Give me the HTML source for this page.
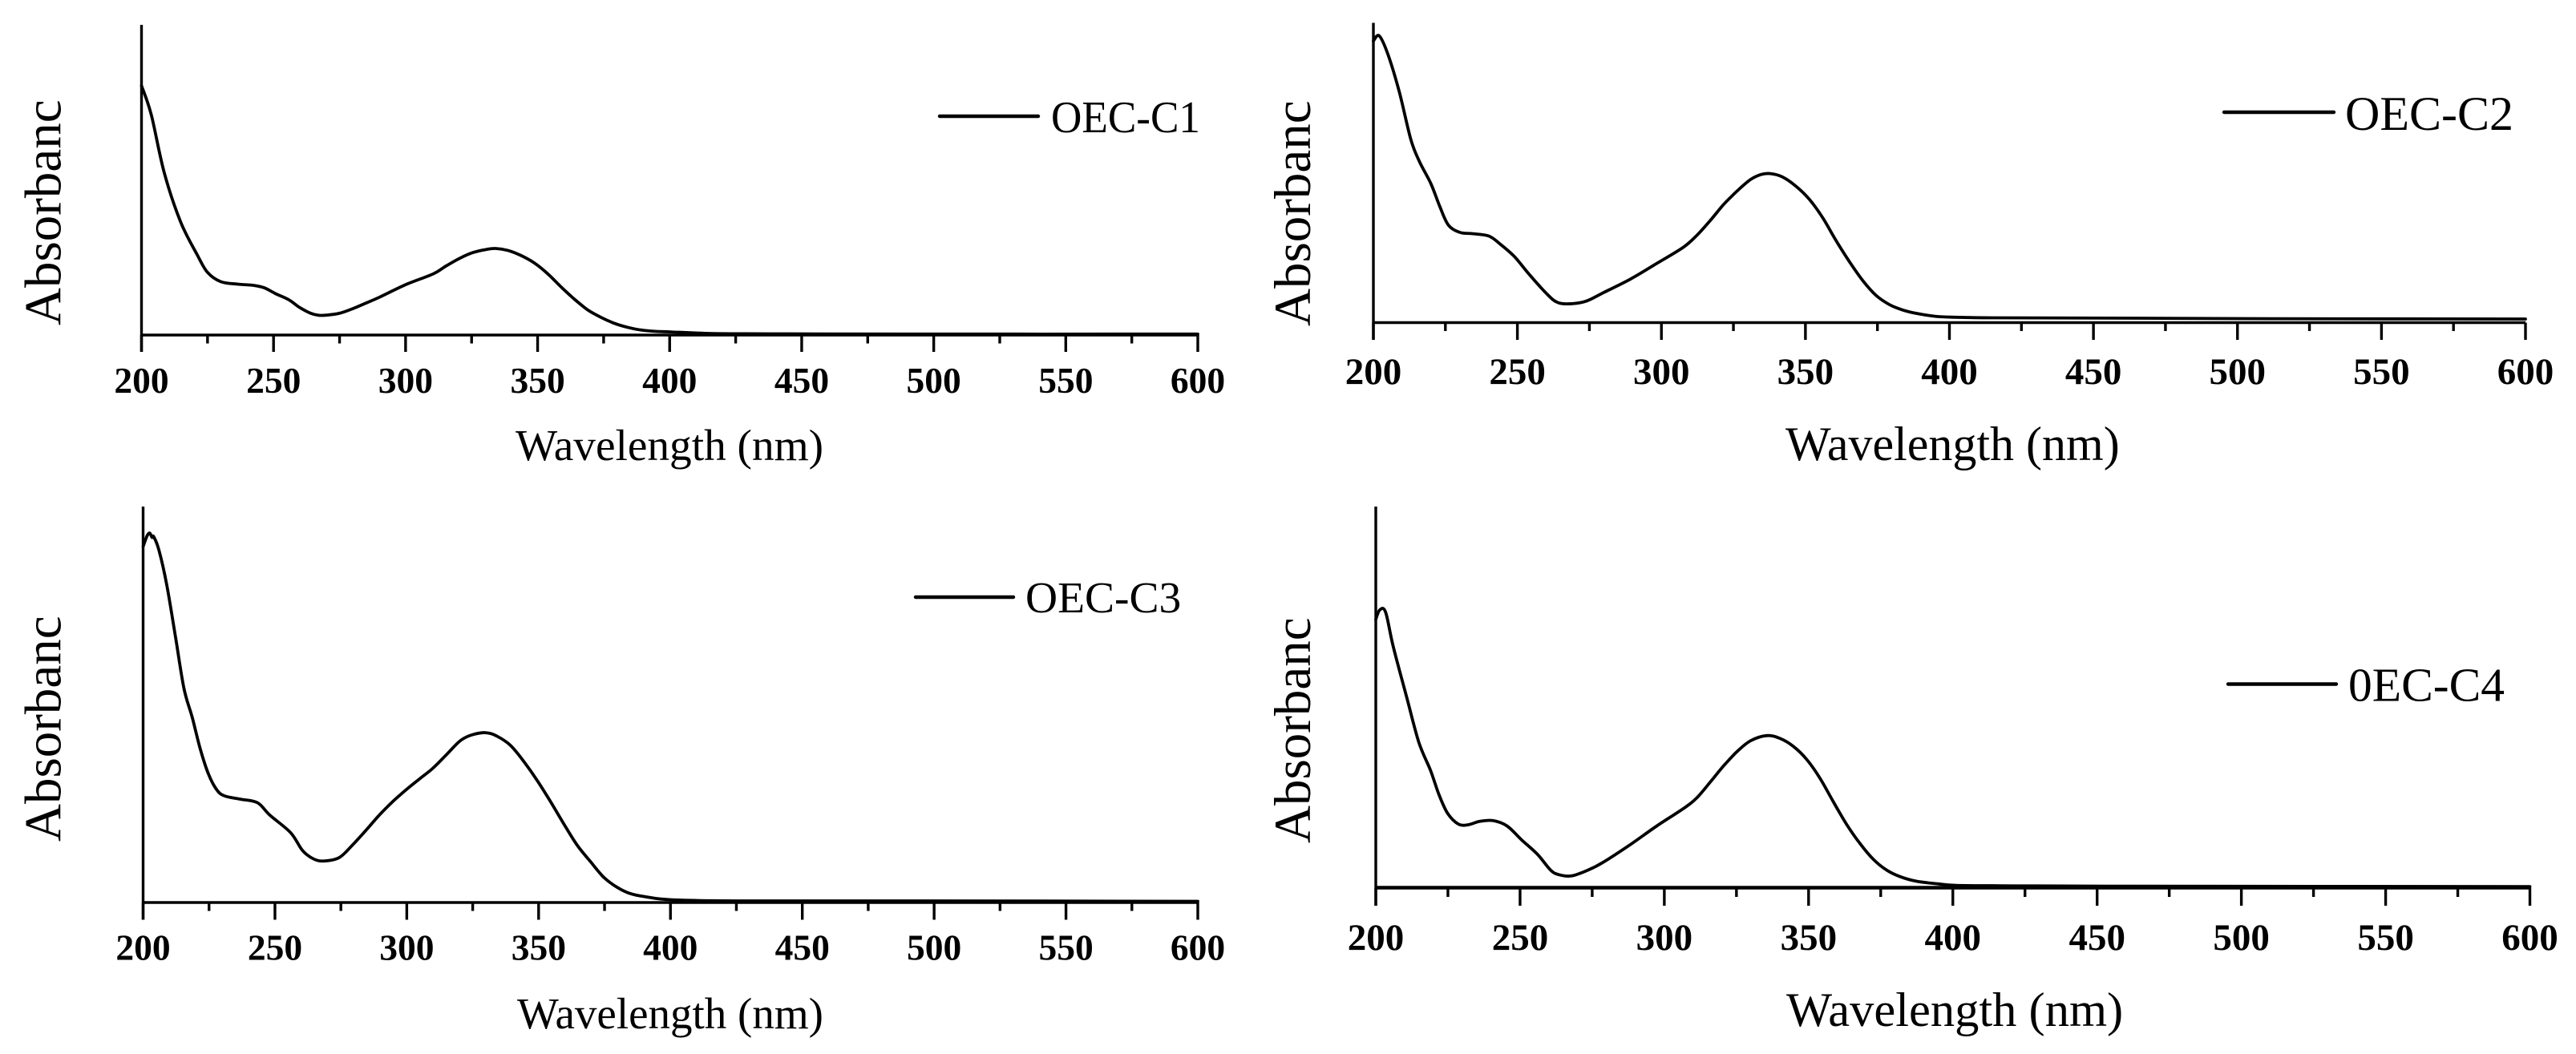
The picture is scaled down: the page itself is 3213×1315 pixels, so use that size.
<!DOCTYPE html>
<html lang="en">
<head>
<meta charset="utf-8">
<title>UV-Vis absorbance spectra of OEC-C1 to OEC-C4</title>
<style>
  html, body { margin: 0; padding: 0; background: #fff; }
  svg { display: block; }
  text { font-family: "Liberation Serif", "DejaVu Serif", serif; fill: #000; }
  .tick-label { font-weight: bold; text-anchor: middle; }
  .axis-line { stroke: #000; stroke-width: 3.4; fill: none; }
  .curve { stroke: #000; stroke-width: 3.8; fill: none; stroke-linejoin: round; stroke-linecap: round; }
  .legend-line { stroke: #000; stroke-width: 4.4; stroke-linecap: round; }
</style>
</head>
<body>
<svg id="figure" xmlns="http://www.w3.org/2000/svg" width="3213" height="1315" viewBox="0 0 3213 1315">
  <rect x="0" y="0" width="3213" height="1315" fill="#fff"/>

  <g id="panel-1">
    <text transform="translate(75.5,406) rotate(-90)" font-size="65">Absorbanc</text>
    <text x="643" y="574" font-size="55.3">Wavelength (nm)</text>
    <line class="legend-line" x1="1172" y1="145" x2="1295" y2="145"/>
    <text x="1311" y="165" font-size="56" textLength="186" lengthAdjust="spacingAndGlyphs">OEC-C1</text>
  </g>

  <g id="panel-2">
    <text transform="translate(1634,407) rotate(-90)" font-size="65">Absorbanc</text>
    <text x="2227" y="574" font-size="60">Wavelength (nm)</text>
    <line class="legend-line" x1="2774" y1="140" x2="2911" y2="140"/>
    <text x="2925" y="162" font-size="60">OEC-C2</text>
  </g>

  <g id="panel-3">
    <text transform="translate(75.5,1050) rotate(-90)" font-size="65">Absorbanc</text>
    <text x="645" y="1283" font-size="55">Wavelength (nm)</text>
    <line class="legend-line" x1="1142" y1="745" x2="1264" y2="745"/>
    <text x="1279" y="764" font-size="55.5">OEC-C3</text>
  </g>

  <g id="panel-4">
    <text transform="translate(1634,1052) rotate(-90)" font-size="65">Absorbanc</text>
    <text x="2228" y="1280" font-size="60.5">Wavelength (nm)</text>
    <line class="legend-line" x1="2779" y1="853.5" x2="2914" y2="853.5"/>
    <text x="2929" y="874.5" font-size="59.5">0EC-C4</text>
  </g>
</svg>

<script>
// Chart data: wavelength (nm) and relative absorbance
const majorTicks = [200, 250, 300, 350, 400, 450, 500, 550, 600];
const minorTicks = [225, 275, 325, 375, 425, 475, 525, 575];

const wavelengthC1 = [200,203.7,208.6,214.8,221,225,230,236.5,242.6,246.6,250.6,255.7,259.7,263.8,266.9,269.9,274.9,280,285,290.1,300.2,310.4,315.4,320.4,325.5,330.6,334,338.6,343.8,348.8,353.9,359,364,369,374,379,384,389.3,394.4,400.4,416,440,487,600];
const absorbanceC1 = [.804,.71,.524,.365,.26,.202,.172,.164,.160,.152,.134,.114,.09,.071,.064,.064,.070,.085,.103,.122,.163,.197,.223,.247,.266,.276,.279,.273,.256,.232,.197,.154,.115,.081,.057,.038,.025,.016,.012,.010,.005,.004,.003,.003];

const wavelengthC2 = [200,202,205,209,213,216,220,223,226,230,234,240,244,249,254,260,264,269,274,279.9,289.2,298.5,307.7,312.4,317,321.6,326.3,330.9,334.6,337.9,342,346.7,351.3,356,360.6,365.3,369.9,374.5,379.2,383.8,388.4,395,402.4,415,455,512,600];
const absorbanceC2 = [.939,.957,.896,.770,.611,.537,.463,.389,.326,.301,.297,.289,.262,.220,.162,.098,.067,.063,.072,.100,.145,.198,.252,.292,.341,.394,.439,.477,.494,.497,.486,.455,.412,.350,.274,.203,.140,.091,.060,.042,.031,.021,.018,.016,.015,.013,.012];

const wavelengthC3 = [200,201.5,202.5,203.4,204,206,209,212.4,215.5,218.6,221.7,224.8,228,231,237,243.4,248,256,260.5,265,269,274.5,279.5,284.6,289.6,294.7,299.8,304.8,309.9,315,320,324.1,329.7,334.2,339.3,344.4,349.4,354.5,359.6,364.7,369.7,374.8,379.9,385,391,400,425,487,600];
const absorbanceC3 = [.899,.926,.933,.922,.924,.890,.801,.666,.540,.468,.387,.324,.284,.269,.261,.252,.221,.176,.131,.109,.105,.114,.146,.183,.221,.255,.285,.312,.339,.373,.407,.422,.429,.420,.397,.356,.309,.255,.198,.144,.103,.063,.038,.022,.014,.007,.004,.004,.003];

const wavelengthC4 = [200,201.4,203.4,206,210.6,214.9,219,222,224.9,228.6,232,236,240.6,245.5,250.6,256,260.6,263.5,267.8,273.5,278.9,288.2,297.4,306.7,311.3,316,320.6,325.2,329.8,335.4,340,344.7,349.3,353.9,358.6,363.2,367.8,372.5,377.1,381.7,387.3,394.7,401.2,416,454,600];
const absorbanceC4 = [.704,.729,.723,.634,.503,.382,.307,.242,.195,.167,.165,.174,.176,.162,.125,.088,.046,.034,.031,.046,.067,.113,.162,.208,.236,.278,.320,.357,.385,.399,.392,.371,.337,.288,.225,.166,.116,.074,.046,.029,.017,.010,.006,.005,.004,.003];

const panels = [
  { id: 'panel-1', xs: wavelengthC1, ys: absorbanceC1, left: 176.5, right: 1494, axisY: 418, topY: 31, majorEnd: 439, minorEnd: 428.5, labelY: 490, labelSize: 45.5, axisWidth: 3.4 },
  { id: 'panel-2', xs: wavelengthC2, ys: absorbanceC2, left: 1713, right: 3150, axisY: 402.5, topY: 28.5, majorEnd: 424, minorEnd: 413, labelY: 479, labelSize: 47, axisWidth: 3.4 },
  { id: 'panel-3', xs: wavelengthC3, ys: absorbanceC3, left: 178.5, right: 1494, axisY: 1126, topY: 632, majorEnd: 1147.5, minorEnd: 1136.5, labelY: 1197.5, labelSize: 45.5, axisWidth: 3.4 },
  { id: 'panel-4', xs: wavelengthC4, ys: absorbanceC4, left: 1716, right: 3155.5, axisY: 1107.5, topY: 632, majorEnd: 1130, minorEnd: 1119, labelY: 1185, labelSize: 47, axisWidth: 4.6 }
];

const SVG_NS = 'http://www.w3.org/2000/svg';

function makeLine(group, x1, y1, x2, y2) {
  const el = document.createElementNS(SVG_NS, 'line');
  el.setAttribute('x1', x1);
  el.setAttribute('y1', y1);
  el.setAttribute('x2', x2);
  el.setAttribute('y2', y2);
  el.setAttribute('class', 'axis-line');
  group.appendChild(el);
  return el;
}

function smoothPath(pts) {
  let d = 'M' + pts[0][0].toFixed(1) + ' ' + pts[0][1].toFixed(1);
  for (let i = 0; i < pts.length - 1; i++) {
    const p0 = pts[Math.max(i - 1, 0)];
    const p1 = pts[i];
    const p2 = pts[i + 1];
    const p3 = pts[Math.min(i + 2, pts.length - 1)];
    const c1x = p1[0] + (p2[0] - p0[0]) / 6;
    const c1y = p1[1] + (p2[1] - p0[1]) / 6;
    const c2x = p2[0] - (p3[0] - p1[0]) / 6;
    const c2y = p2[1] - (p3[1] - p1[1]) / 6;
    d += 'C' + c1x.toFixed(1) + ' ' + c1y.toFixed(1) + ' ' + c2x.toFixed(1) + ' ' + c2y.toFixed(1) + ' ' + p2[0].toFixed(1) + ' ' + p2[1].toFixed(1);
  }
  return d;
}

panels.forEach(function (p) {
  const group = document.getElementById(p.id);
  const xScale = function (w) { return p.left + (w - 200) * (p.right - p.left) / 400; };
  const yScale = function (a) { return p.axisY - a * (p.axisY - p.topY); };

  const yAxis = makeLine(group, p.left, p.topY, p.left, p.majorEnd);
  
  

  const xAxis = makeLine(group, p.left, p.axisY, p.right, p.axisY);
  xAxis.style.strokeWidth = p.axisWidth;
  
  

  majorTicks.forEach(function (t) {
    const tick = makeLine(group, xScale(t), p.axisY, xScale(t), p.majorEnd);
    
    

    const label = document.createElementNS(SVG_NS, 'text');
    label.setAttribute('x', xScale(t));
    label.setAttribute('y', p.labelY);
    label.setAttribute('font-size', p.labelSize);
    label.setAttribute('class', 'tick-label');
    
    
    label.textContent = String(t);
    group.appendChild(label);
  });

  minorTicks.forEach(function (t) {
    const tick = makeLine(group, xScale(t), p.axisY, xScale(t), p.minorEnd);
    
    
  });

  const pts = p.xs.map(function (w, i) { return [xScale(w), yScale(p.ys[i])]; });
  const curve = document.createElementNS(SVG_NS, 'path');
  curve.setAttribute('d', smoothPath(pts));
  curve.setAttribute('class', 'curve');
  
  
  group.appendChild(curve);
});
</script>
</body>
</html>
